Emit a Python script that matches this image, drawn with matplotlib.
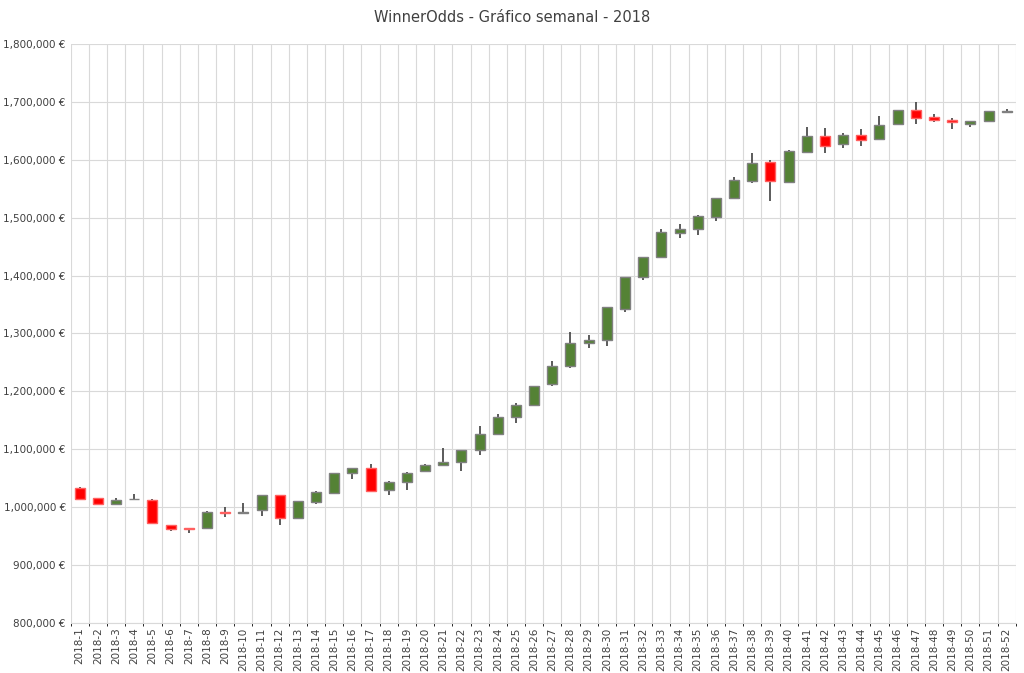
import matplotlib
matplotlib.use("Agg")
import matplotlib.pyplot as plt
from matplotlib.ticker import FuncFormatter, MultipleLocator

weeks = [f"2018-{i}" for i in range(1, 53)]
opens = [1033,1015,1005,1013,1012,968,964,963,991,990,995,1020,981,1008,1024,1058,1068,1030,1043,1062,
         1072,1078,1098,1126,1155,1176,1212,1243,1283,1288,1343,1398,1432,1473,1480,1502,1535,1563,1596,1562,
         1614,1642,1627,1643,1637,1662,1686,1675,1670,1662,1667,1683]
highs = [1035,1015,1016,1022,1013,968,964,993,1000,1006,1020,1020,1010,1027,1058,1068,1075,1045,1060,1074,
         1102,1098,1140,1160,1180,1210,1252,1303,1298,1345,1398,1432,1480,1490,1505,1535,1570,1612,1600,1617,
         1657,1656,1646,1653,1676,1686,1700,1680,1673,1668,1685,1688]
lows = [1013,1005,1005,1013,972,958,955,963,983,988,985,968,981,1005,1022,1048,1025,1020,1030,1060,
        1072,1062,1090,1126,1145,1176,1210,1240,1275,1278,1338,1392,1432,1466,1470,1494,1532,1560,1530,1562,
        1612,1612,1620,1625,1637,1662,1662,1666,1654,1658,1667,1682]
closes = [1014,1005,1012,1014,973,962,962,992,989,992,1020,981,1010,1025,1058,1068,1028,1043,1058,1072,
          1077,1098,1126,1155,1177,1210,1244,1283,1288,1345,1397,1432,1475,1480,1503,1535,1565,1595,1563,1616,
          1641,1625,1643,1635,1661,1686,1672,1670,1666,1667,1685,1685]

fig = plt.figure(figsize=(10.24, 6.73), dpi=100)
ax = fig.add_axes([0.069, 0.075, 0.923, 0.859])
x = list(range(len(weeks)))
for i in x:
    o, h, l, c = [v * 1000 for v in (opens[i], highs[i], lows[i], closes[i])]
    col = "#548235" if c >= o else "#FF0000"
    ax.vlines(i, l, h, color="#404040", lw=1.2, zorder=2)
    bot, top = min(o, c), max(o, c)
    ax.bar(i, max(top - bot, 1500), bottom=bot, width=0.55, color=col,
           edgecolor="#808080" if c >= o else "#FF6060", lw=1, zorder=3)

ax.set_xlim(-0.5, len(weeks) - 0.5)
ax.set_ylim(800000, 1800000)
ax.yaxis.set_major_locator(MultipleLocator(100000))
ax.yaxis.set_major_formatter(FuncFormatter(lambda v, p: f"{v:,.0f} €"))
ax.set_xticks(x)
ax.set_xticklabels(weeks, rotation=90, fontsize=7.5, color="#404040")
ax.tick_params(axis="y", labelsize=7.5, labelcolor="#404040", length=0)
ax.tick_params(axis="x", length=0)
ax.set_xticks([i + 0.5 for i in range(-1, len(weeks))], minor=True)
ax.grid(which="minor", axis="x", color="#D9D9D9", lw=0.8)
ax.grid(which="major", axis="y", color="#D9D9D9", lw=0.8)
ax.set_axisbelow(True)
for s in ax.spines.values():
    s.set_visible(False)
ax.spines["bottom"].set_visible(True)
ax.spines["bottom"].set_color("#D9D9D9")
fig.suptitle("WinnerOdds - Gráfico semanal - 2018", y=0.985, fontsize=10.5, color="#404040")
fig.savefig("out.png", dpi=100)
